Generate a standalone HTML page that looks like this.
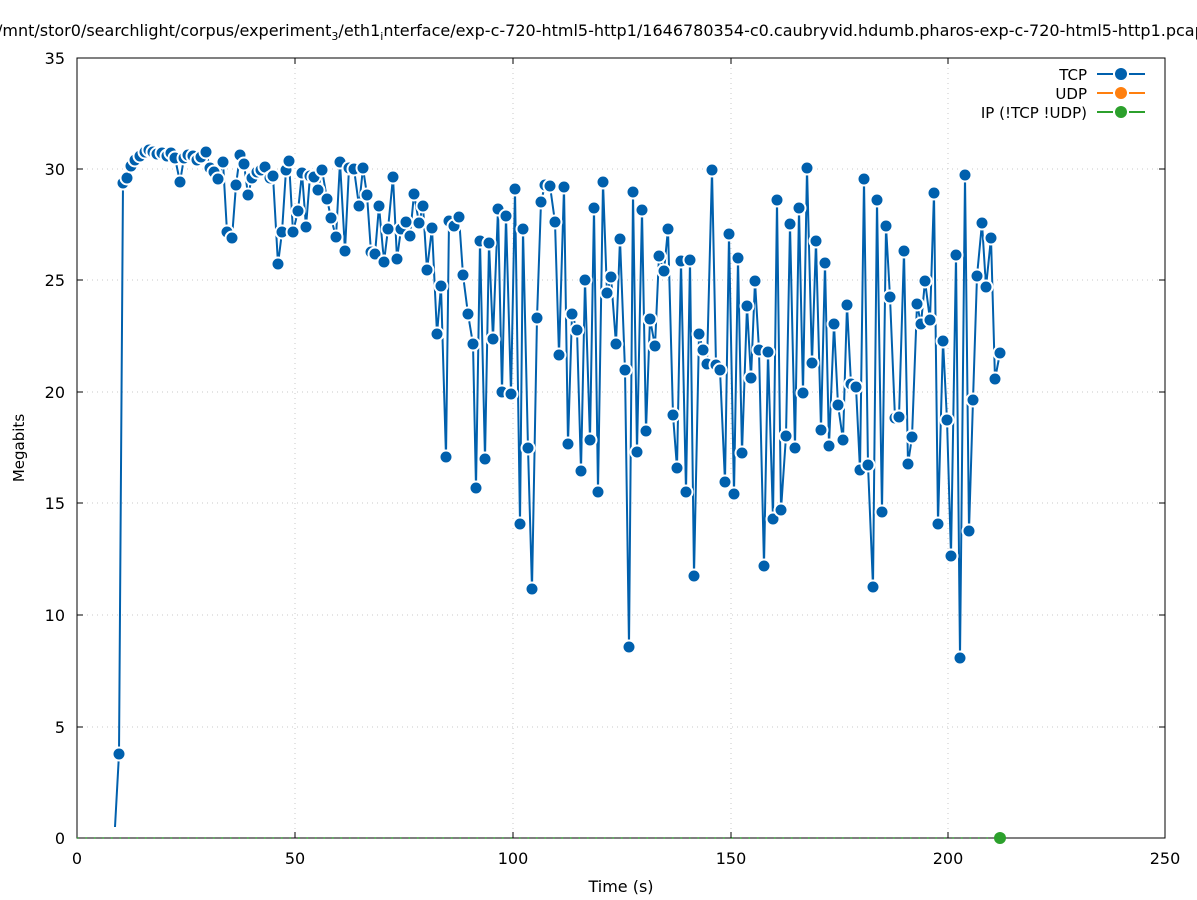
<!DOCTYPE html>
<html><head><meta charset="utf-8"><style>body{margin:0;background:#fff}svg{display:block;font-family:"DejaVu Sans","Liberation Sans",sans-serif}</style></head><body>
<svg width="1197" height="900" viewBox="0 0 1197 900" xmlns="http://www.w3.org/2000/svg">
<defs>
<marker id="dot" markerUnits="userSpaceOnUse" markerWidth="20" markerHeight="20" refX="10" refY="10" viewBox="0 0 20 20">
<circle cx="10" cy="10" r="6.5" fill="#0060ad" stroke="#fff" stroke-width="2"/>
</marker>
</defs>
<rect width="1197" height="900" fill="#fff"/>
<g stroke="#c8c8c8" stroke-dasharray="1,4" stroke-width="1">
<line x1="77" y1="727" x2="1165" y2="727"/><line x1="77" y1="615" x2="1165" y2="615"/><line x1="77" y1="503" x2="1165" y2="503"/><line x1="77" y1="392" x2="1165" y2="392"/><line x1="77" y1="280" x2="1165" y2="280"/><line x1="77" y1="169" x2="1165" y2="169"/>
<line x1="295" y1="58" x2="295" y2="838"/><line x1="513" y1="58" x2="513" y2="838"/><line x1="731" y1="58" x2="731" y2="838"/><line x1="948" y1="58" x2="948" y2="838"/>
</g>
<rect x="77" y="58" width="1088" height="780" fill="none" stroke="#000" stroke-width="1"/>
<g stroke="#000">
<line x1="77" y1="727" x2="83" y2="727"/><line x1="77" y1="615" x2="83" y2="615"/><line x1="77" y1="503" x2="83" y2="503"/><line x1="77" y1="392" x2="83" y2="392"/><line x1="77" y1="280" x2="83" y2="280"/><line x1="77" y1="169" x2="83" y2="169"/>
<line x1="1165" y1="727" x2="1159" y2="727"/><line x1="1165" y1="615" x2="1159" y2="615"/><line x1="1165" y1="503" x2="1159" y2="503"/><line x1="1165" y1="392" x2="1159" y2="392"/><line x1="1165" y1="280" x2="1159" y2="280"/><line x1="1165" y1="169" x2="1159" y2="169"/>
<line x1="295" y1="838" x2="295" y2="832"/><line x1="513" y1="838" x2="513" y2="832"/><line x1="731" y1="838" x2="731" y2="832"/><line x1="948" y1="838" x2="948" y2="832"/>
<line x1="295" y1="58" x2="295" y2="64"/><line x1="513" y1="58" x2="513" y2="64"/><line x1="731" y1="58" x2="731" y2="64"/><line x1="948" y1="58" x2="948" y2="64"/>
</g>
<g font-size="16" fill="#000" text-anchor="end">
<text x="65" y="844">0</text><text x="65" y="733">5</text><text x="65" y="621">10</text><text x="65" y="509">15</text><text x="65" y="398">20</text><text x="65" y="286">25</text><text x="65" y="175">30</text><text x="65" y="64">35</text>
</g>
<g font-size="16" fill="#000" text-anchor="middle">
<text x="77" y="864">0</text><text x="295" y="864">50</text><text x="513" y="864">100</text><text x="731" y="864">150</text><text x="948" y="864">200</text><text x="1165" y="864">250</text>
<text x="621" y="892">Time (s)</text>
</g>
<text transform="translate(24,448) rotate(-90)" font-size="15" text-anchor="middle">Megabits</text>
<text x="-3" y="36" font-size="16">/mnt/stor0/searchlight/corpus/experiment<tspan font-size="11" dy="4">3</tspan><tspan dy="-4">/eth1</tspan><tspan font-size="11" dy="4">i</tspan><tspan dy="-4">nterface/exp-c-720-html5-http1/1646780354-c0.caubryvid.hdumb.pharos-exp-c-720-html5-http1.pcap</tspan></text>
<line x1="77" y1="838" x2="1000" y2="838" stroke="#2ca02c" stroke-width="1.5" stroke-dasharray="1.5,7"/>
<circle cx="1000" cy="838" r="6" fill="#2ca02c"/>
<polyline fill="none" stroke="#0060ad" stroke-width="2" stroke-linejoin="round" marker-mid="url(#dot)" marker-end="url(#dot)" points="115,827 119,754 123,183 127,178 131,166 135,160 140,156 145,152 149,150 153,152 157,154 162,153 167,156 171,153 175,158 180,182 184,158 188,155 193,156 197,160 201,157 206,152 210,168 214,172 218,179 223,162 227,232 232,238 236,185 240,155 244,164 248,195 252,178 257,172 261,170 265,167 270,178 273,176 278,264 282,232 286,170 289,161 293,232 298,211 302,173 306,227 310,176 314,177 318,190 322,170 327,199 331,218 336,237 340,162 345,251 349,168 354,169 359,206 363,168 367,195 371,252 375,254 379,206 384,262 388,229 393,177 397,259 401,229 406,222 410,236 414,194 419,223 423,206 427,270 432,228 437,334 441,286 446,457 449,221 454,226 459,217 463,275 468,314 473,344 476,488 480,241 485,459 489,243 493,339 498,209 502,392 506,216 511,394 515,189 520,524 523,229 528,448 532,589 537,318 541,202 545,185 550,186 555,222 559,355 564,187 568,444 572,314 577,330 581,471 585,280 590,440 594,208 598,492 603,182 607,293 611,277 616,344 620,239 625,370 629,647 633,192 637,452 642,210 646,431 650,319 655,346 659,256 664,271 668,229 673,415 677,468 681,261 686,492 690,260 694,576 699,334 703,350 707,364 712,170 716,365 720,370 725,482 729,234 734,494 738,258 742,453 747,306 751,378 755,281 759,350 764,566 768,352 773,519 777,200 781,510 786,436 790,224 795,448 799,208 803,393 807,168 812,363 816,241 821,430 825,263 829,446 834,324 838,405 843,440 847,305 851,384 856,387 860,470 864,179 868,465 873,587 877,200 882,512 886,226 890,297 895,418 899,417 904,251 908,464 912,437 917,304 921,324 925,281 930,320 934,193 938,524 943,341 947,420 951,556 956,255 960,658 965,175 969,531 973,400 977,276 982,223 986,287 991,238 995,379 1000,353"/>
<g font-size="15" text-anchor="end">
<text x="1087" y="80">TCP</text><text x="1087" y="99">UDP</text><text x="1087" y="118">IP (!TCP  !UDP)</text>
</g>
<g stroke-width="2" stroke-dasharray="16,6,4,6,16">
<line x1="1097" y1="74" x2="1145" y2="74" stroke="#0060ad"/>
<line x1="1097" y1="93" x2="1145" y2="93" stroke="#ff7f0e"/>
<line x1="1097" y1="112" x2="1145" y2="112" stroke="#2ca02c"/>
</g>
<circle cx="1121" cy="74" r="6" fill="#0060ad"/>
<circle cx="1121" cy="93" r="6" fill="#ff7f0e"/>
<circle cx="1121" cy="112" r="6" fill="#2ca02c"/>
</svg>
</body></html>
